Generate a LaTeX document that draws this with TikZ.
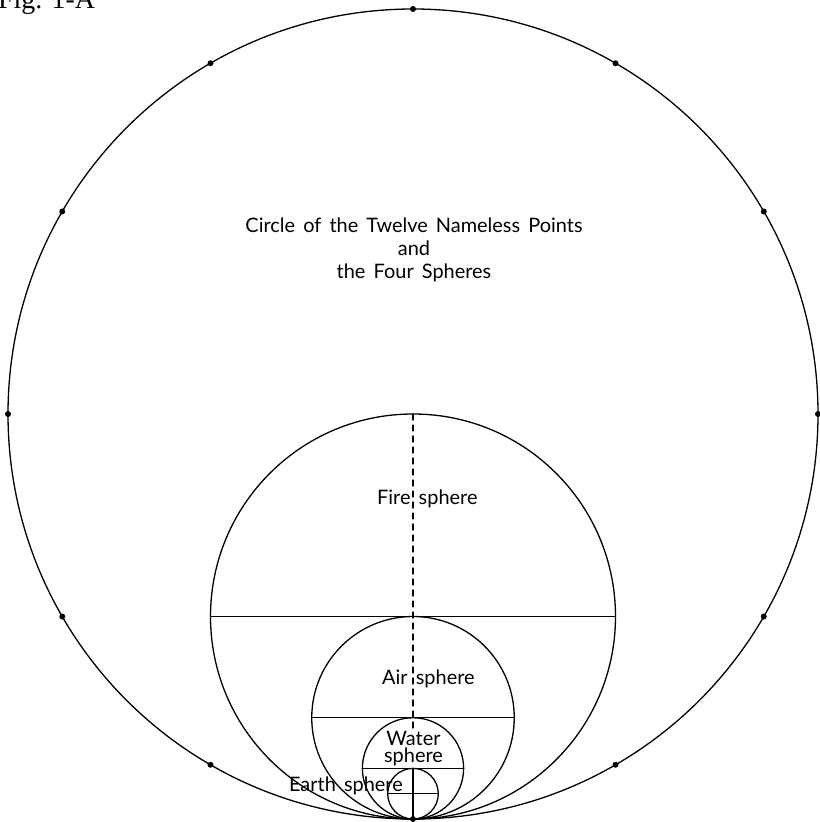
\documentclass[tikz,border=0pt]{standalone}
\usepackage{fontspec}
\setmainfont{Liberation Serif}
\newfontfamily\gillfont{Lato}[WordSpace=1.6]
\usetikzlibrary{calc}
\tikzset{
  every picture/.style={line cap=round, line join=round},
  sphere/.style={line width=1.3bp},
  diam/.style={line width=1.3bp},
  axis/.style={line width=1.3bp, dash pattern=on 6bp off 5bp},
  lbl/.style={font=\gillfont\fontsize{20}{23}\selectfont, inner sep=0pt, align=center},
  namedot/.style={fill, circle, inner sep=0pt, minimum size=6bp},
}
\begin{document}
\begin{tikzpicture}[x=1bp, y=-1bp]
  \useasboundingbox (0,0) rectangle (820,822);
  \coordinate (O) at (413,414);
  \coordinate (B) at (413,819);
  % the circle and the four spheres, all touching at the bottom
  \foreach \r/\n in {405/big, 202.5/fire, 101.25/air, 50.625/water, 25.3125/earth}{
    \coordinate (c\n) at ($(B)-(0,\r)$);
    \draw[sphere] (c\n) circle[radius=\r];}
  % diameters
  \foreach \r/\n in {202.5/fire, 101.25/air, 50.625/water, 25.3125/earth}
    \draw[diam] ($(c\n)-(\r,0)$) -- ($(c\n)+(\r,0)$);
  \coordinate (ftop) at ($(cfire)-(0,202.5)$);
  \coordinate (axend) at (413,735);
  \coordinate (etop) at ($(cearth)-(0,25.3125)$);
  \draw[axis] (ftop) -- (axend);
  \draw[diam] (etop) -- (B);
  % twelve nameless points
  \foreach \a in {0,30,...,330}
    \node[namedot] (p\a) at ([shift={(\a:405)}]O) {};
  % texts
  \node[lbl, anchor=base] (title) at (414,232) {Circle of the Twelve Nameless Points};
  \node[lbl, anchor=base] (titleand) at (414,255) {and};
  \node[lbl, anchor=base] (titlefour) at (414,278) {the Four Spheres};
  \node[lbl, anchor=base west] (fire) at (377,504) {Fire sphere};
  \node[lbl, anchor=base west] (air) at (382,684) {Air sphere};
  \node[lbl, fill=white, anchor=base] (water) at (413.5,745) {Water};
  \node[lbl, anchor=base] (watersph) at (413.5,762) {sphere};
  \node[lbl, anchor=base east] (earth) at (403,791) {Earth sphere};
  \node[font=\fontsize{28}{28}\selectfont, anchor=base west, inner sep=0pt] (fig) at (-2,9) {Fig. 1-A};
\end{tikzpicture}
\end{document}
